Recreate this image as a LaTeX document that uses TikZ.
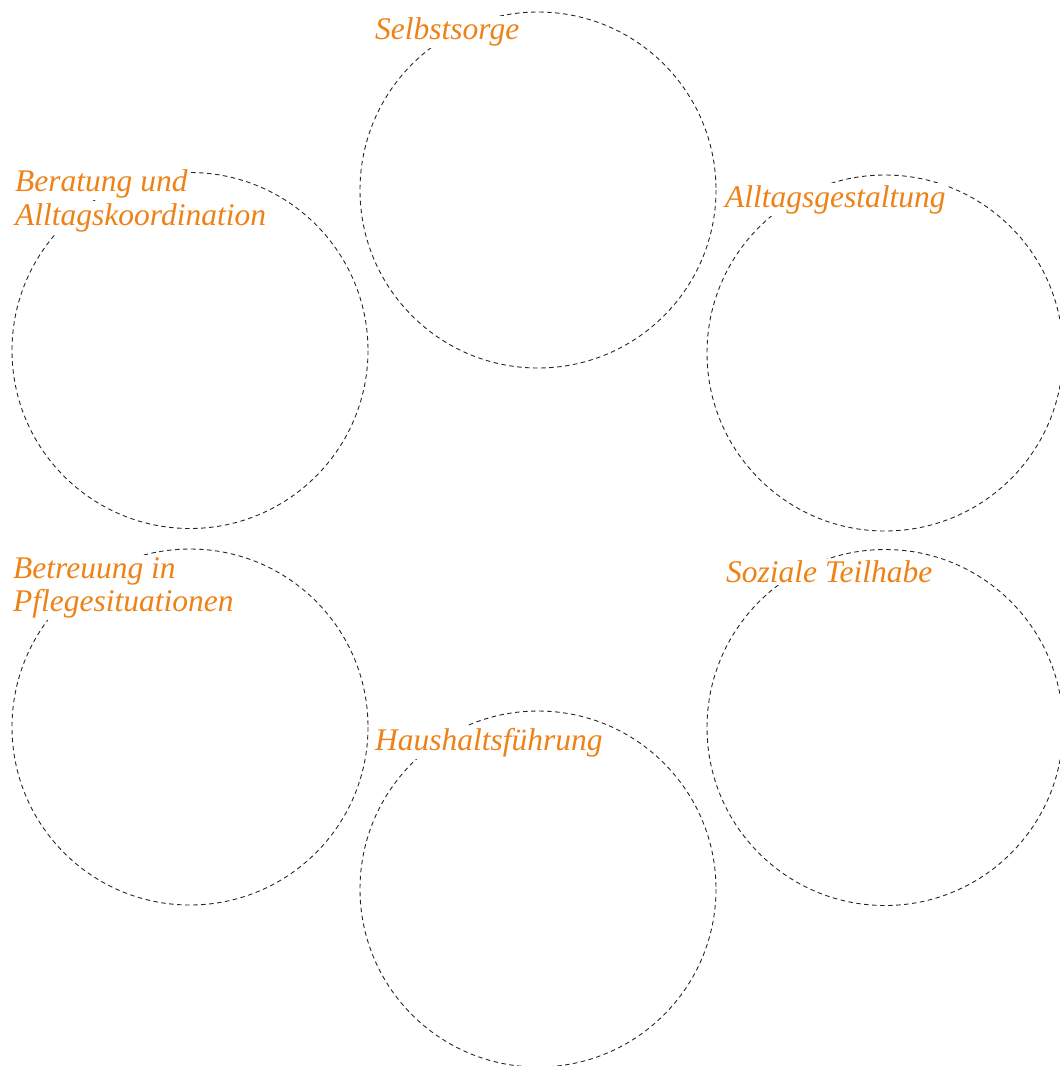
\documentclass[tikz,border=0pt]{standalone}
\usepackage{fontspec}
\setmainfont{Liberation Serif}
\definecolor{labelorange}{RGB}{238,130,22}
\tikzset{
  ring/.style={draw=black!85, line width=0.9pt, dash pattern=on 4.5pt off 3.5pt},
  lbl/.style={anchor=base west, fill=white, inner sep=2pt, text=labelorange,
    font=\fontsize{31.5}{31.5}\selectfont\itshape},
}
\begin{document}
\begin{tikzpicture}[x=1pt,y=-1pt]
\useasboundingbox (0,0) rectangle (1060,1066);
% circles
\draw[ring] (538,190) circle[radius=178];
\draw[ring] (190,350.5) circle[radius=178];
\draw[ring] (885,353) circle[radius=178];
\draw[ring] (885,727.5) circle[radius=178];
\draw[ring] (190,727) circle[radius=178];
\draw[ring] (538,889) circle[radius=178];
% labels
\node[lbl] (selbst) at (373,39.5) {Selbstsorge};
\node[lbl] (berat1) at (13,191.5) {Beratung und};
\node[lbl] (berat2) at (13,225) {Alltagskoordination};
\node[lbl] (alltag) at (723,207) {Alltagsgestaltung};
\node[lbl] (betreu1) at (11,578) {Betreuung in};
\node[lbl] (betreu2) at (11,611.5) {Pflegesituationen};
\node[lbl] (haus) at (373,750) {Haushaltsführung};
\node[lbl] (sozial) at (724,582.5) {Soziale Teilhabe};
\end{tikzpicture}
\end{document}
